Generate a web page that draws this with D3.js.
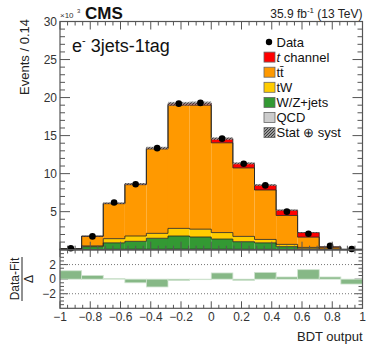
<!DOCTYPE html>
<html>
<head>
<meta charset="utf-8">
<script src="https://cdn.jsdelivr.net/npm/d3@7"></script>
<style>
  body { margin: 0; background: #fff; }
  svg { display: block; font-family: "Liberation Sans", Arial, sans-serif; }
</style>
</head>
<body>
<div id="chart"></div>
<script>
// Bin edges of the BDT output (14 bins)
const binEdges = [-1, -0.857, -0.714, -0.571, -0.429, -0.286, -0.143, 0, 0.143, 0.286, 0.429, 0.571, 0.714, 0.857, 1];

// Stack components (x10^3 events), bottom to top
const qcd     = [0.01, 0.03, 0.05, 0.06, 0.06, 0.07, 0.07, 0.06, 0.05, 0.04, 0.03, 0.02, 0.01, 0.01];
const wzjets  = [0.04, 0.37, 0.85, 1.04, 1.44, 1.73, 1.6, 1.34, 1.0, 0.86, 0.37, 0.1, 0.03, 0.01];
const tW      = [0.02, 0.1, 0.55, 0.7, 0.65, 1.0, 1.03, 0.85, 0.7, 0.45, 0.3, 0.18, 0.05, 0.01];
const ttbar   = [0.06, 1.25, 4.6, 6.75, 11.1, 16.2, 16.3, 11.8, 9.0, 6.5, 3.8, 1.35, 0.24, 0.02];
const tchan   = [0.0, 0.05, 0.07, 0.1, 0.12, 0.2, 0.25, 0.55, 0.6, 0.65, 0.7, 0.6, 0.05, 0.0];

// Observed data (x10^3 events)
const dataVals = [0.2, 1.75, 6.2, 8.6, 13.35, 19.2, 19.3, 14.6, 11.3, 8.45, 5.0, 2.1, 0.5, 0.1];

// (Data - Fit) / Delta
const pulls = [1.15, 0.5, 0.1, -0.5, -1.07, -0.2, -0.07, 0.85, -0.18, 0.93, 0.3, 1.3, 0.3, -0.67];

const yTicks = [5, 10, 15, 20, 25, 30];
const xTicks = [-1, -0.8, -0.6, -0.4, -0.2, 0, 0.2, 0.4, 0.6, 0.8, 1];
const pullTicks = [-2, 0, 2];

const W = 374, H = 357;
const frameColor = "#555";

const svg = d3.select("#chart").append("svg")
  .attr("width", W).attr("height", H);

const x = d3.scaleLinear().domain([-1, 1]).range([60, 362.5]);
const y = d3.scaleLinear().domain([0, 30]).range([249.7, 21.5]);
const yr = d3.scaleLinear().domain([-4, 4]).range([308.3, 250]);

const fmt = v => (v < 0 ? "\u2212" : "") + Math.abs(v);

// Hatch for the uncertainty band
const defs = svg.append("defs");
const pat = defs.append("pattern")
  .attr("id", "hatch")
  .attr("patternUnits", "userSpaceOnUse")
  .attr("width", 3).attr("height", 3);
pat.append("rect").attr("width", 3).attr("height", 3).attr("fill", "#999");
pat.append("path").attr("d", "M0,3 L3,0").attr("stroke", "#222").attr("stroke-width", 0.8);

// Stack
const layers = [
  { name: "QCD", vals: qcd, color: "#cccccc" },
  { name: "W/Z+jets", vals: wzjets, color: "#339933" },
  { name: "tW", vals: tW, color: "#ffcc00" },
  { name: "ttbar", vals: ttbar, color: "#ff9900" },
  { name: "tchan", vals: tchan, color: "#ff0000" }
];

const cum = binEdges.slice(0, -1).map(() => 0);
const stackG = svg.append("g");
layers.forEach(layer => {
  const lo = cum.slice();
  layer.vals.forEach((v, i) => { cum[i] += v; });
  const hi = cum.slice();
  stackG.selectAll(null)
    .data(hi.map((h, i) => ({ i, lo: lo[i], hi: h })))
    .join("rect")
    .attr("x", d => x(binEdges[d.i]))
    .attr("width", d => x(binEdges[d.i + 1]) - x(binEdges[d.i]))
    .attr("y", d => y(d.hi))
    .attr("height", d => Math.max(0, y(d.lo) - y(d.hi)))
    .attr("fill", layer.color);
  layer.top = hi;
});

// Step outlines of each layer
const stepLine = d3.line()
  .x(d => x(d[0]))
  .y(d => y(d[1]))
  .curve(d3.curveStepAfter);
layers.forEach(layer => {
  const pts = layer.top.map((v, i) => [binEdges[i], v]);
  pts.push([1, layer.top[layer.top.length - 1]]);
  pts.unshift([-1, 0]);
  pts.push([1, 0]);
  stackG.append("path")
    .attr("d", d3.line().x(d => x(d[0])).y(d => y(d[1]))(
      [[-1, 0]].concat(layer.top.flatMap((v, i) => [[binEdges[i], v], [binEdges[i + 1], v]]), [[1, 0]])))
    .attr("fill", "none")
    .attr("stroke", "#222")
    .attr("stroke-width", 0.8);
});

// Uncertainty band around the total
const total = cum.slice();
stackG.selectAll(null)
  .data(total)
  .join("rect")
  .attr("x", (d, i) => x(binEdges[i]))
  .attr("width", (d, i) => x(binEdges[i + 1]) - x(binEdges[i]))
  .attr("y", d => y(d * 1.012))
  .attr("height", d => y(d * 0.988) - y(d * 1.012))
  .attr("fill", "url(#hatch)")
  .attr("opacity", 0.75);

// Data points
const centers = binEdges.slice(0, -1).map((e, i) => (e + binEdges[i + 1]) / 2);
svg.append("g").selectAll("circle")
  .data(dataVals)
  .join("circle")
  .attr("cx", (d, i) => x(centers[i]))
  .attr("cy", d => y(d))
  .attr("r", 3.3)
  .attr("fill", "#000");

// Frames and ticks
function frame(top, bottom) {
  svg.append("rect")
    .attr("x", x(-1)).attr("y", top)
    .attr("width", x(1) - x(-1)).attr("height", bottom - top)
    .attr("fill", "none").attr("stroke", frameColor).attr("stroke-width", 1.2);
}

function xTickMarks(top, bottom, len) {
  const g = svg.append("g").attr("stroke", frameColor).attr("stroke-width", 1);
  const minor = d3.range(-1, 1.0001, 0.05);
  minor.forEach(v => {
    const isMajor = Math.abs(Math.round(v * 5) - v * 5) < 1e-6;
    const l = isMajor ? len : len / 2;
    g.append("line").attr("x1", x(v)).attr("x2", x(v)).attr("y1", bottom).attr("y2", bottom - l);
    g.append("line").attr("x1", x(v)).attr("x2", x(v)).attr("y1", top).attr("y2", top + l);
  });
}

// Main panel
frame(y(30), y(0));
xTickMarks(y(30), y(0), 8);
const yAxisL = d3.axisLeft(y).tickValues(d3.range(1, 31)).tickSize(0).tickFormat("");
const tickG = svg.append("g").attr("stroke", frameColor);
d3.range(1, 30).forEach(v => {
  const l = v % 5 === 0 ? 10 : 5;
  tickG.append("line").attr("x1", x(-1)).attr("x2", x(-1) + l).attr("y1", y(v)).attr("y2", y(v));
  tickG.append("line").attr("x1", x(1)).attr("x2", x(1) - l).attr("y1", y(v)).attr("y2", y(v));
});
svg.append("g").selectAll("text")
  .data(yTicks)
  .join("text")
  .attr("x", x(-1) - 3)
  .attr("y", d => y(d))
  .attr("dy", "0.35em")
  .attr("text-anchor", "end")
  .attr("font-size", 12)
  .attr("fill", "#333")
  .text(d => d);

// Ratio panel
svg.append("g").selectAll("rect")
  .data(pulls)
  .join("rect")
  .attr("x", (d, i) => x(binEdges[i]))
  .attr("width", (d, i) => x(binEdges[i + 1]) - x(binEdges[i]))
  .attr("y", d => yr(Math.max(0, d)))
  .attr("height", d => Math.abs(yr(d) - yr(0)))
  .attr("fill", "#86b886")
  .attr("stroke", "#cfe3cf")
  .attr("stroke-width", 0.8);

[-2, 2].forEach(v => {
  svg.append("line")
    .attr("x1", x(-1)).attr("x2", x(1))
    .attr("y1", yr(v)).attr("y2", yr(v))
    .attr("stroke", "#777").attr("stroke-width", 1)
    .attr("stroke-dasharray", "1,2");
});

frame(yr(4), yr(-4));
xTickMarks(yr(4), yr(-4), 7);
d3.range(-3.5, 4, 0.5).forEach(v => {
  const l = Number.isInteger(v) && v % 2 === 0 ? 8 : 4;
  tickG.append("line").attr("x1", x(-1)).attr("x2", x(-1) + l).attr("y1", yr(v)).attr("y2", yr(v));
  tickG.append("line").attr("x1", x(1)).attr("x2", x(1) - l).attr("y1", yr(v)).attr("y2", yr(v));
});
svg.append("g").selectAll("text")
  .data(pullTicks)
  .join("text")
  .attr("x", x(-1) - 4)
  .attr("y", d => yr(d))
  .attr("dy", "0.35em")
  .attr("text-anchor", "end")
  .attr("font-size", 12)
  .attr("fill", "#333")
  .text(d => fmt(d));

// X tick labels
svg.append("g").selectAll("text")
  .data(xTicks)
  .join("text")
  .attr("x", d => x(d))
  .attr("y", 321)
  .attr("text-anchor", "middle")
  .attr("font-size", 12)
  .attr("fill", "#333")
  .text(d => fmt(d));

svg.append("text")
  .attr("x", x(1)).attr("y", 341)
  .attr("text-anchor", "end")
  .attr("font-size", 13)
  .attr("fill", "#222")
  .text("BDT output");

// Y titles
svg.append("text")
  .attr("transform", `translate(29,19) rotate(-90)`)
  .attr("text-anchor", "end")
  .attr("font-size", 13)
  .attr("fill", "#222")
  .text("Events / 0.14");

const ratioT = svg.append("g").attr("transform", "translate(22,279) rotate(-90)");
ratioT.append("text").attr("y", -3).attr("text-anchor", "middle")
  .attr("font-size", 12).attr("fill", "#222").text("Data-Fit");
ratioT.append("line").attr("x1", -22).attr("x2", 22).attr("y1", 0).attr("y2", 0)
  .attr("stroke", "#222").attr("stroke-width", 1);
ratioT.append("text").attr("y", 11).attr("text-anchor", "middle")
  .attr("font-size", 12).attr("fill", "#222").text("\u0394");

// Header
svg.append("text").attr("x", 60).attr("y", 18)
  .attr("font-size", 8).attr("fill", "#333").text("\u00d710");
svg.append("text").attr("x", 77).attr("y", 13)
  .attr("font-size", 6).attr("fill", "#333").text("3");
svg.append("text").attr("x", 85).attr("y", 19)
  .attr("font-size", 17).attr("font-weight", "bold").attr("fill", "#111").text("CMS");

const lumi = svg.append("text").attr("x", x(1)).attr("y", 18)
  .attr("text-anchor", "end").attr("font-size", 12).attr("fill", "#222");
lumi.append("tspan").text("35.9 fb");
lumi.append("tspan").attr("font-size", 8).attr("dy", -5).text("-1");
lumi.append("tspan").attr("dy", 5).text(" (13 TeV)");

const chan = svg.append("text").attr("x", 72).attr("y", 52)
  .attr("font-size", 18).attr("fill", "#111");
chan.append("tspan").text("e");
chan.append("tspan").attr("font-size", 11).attr("dy", -8).text("-");
chan.append("tspan").attr("dy", 8).text("  3jets-1tag");

// Legend
const legendItems = [
  { label: "Data", kind: "point" },
  { label: "t channel", kind: "box", color: "#ff0000", italicT: true },
  { label: "tt\u0304", kind: "box", color: "#ff9900" },
  { label: "tW", kind: "box", color: "#ffcc00" },
  { label: "W/Z+jets", kind: "box", color: "#339933" },
  { label: "QCD", kind: "box", color: "#cccccc" },
  { label: "Stat \u2295 syst", kind: "box", color: "url(#hatch)" }
];
const leg = svg.append("g");
legendItems.forEach((it, i) => {
  const cy = 42 + i * 15.1;
  if (it.kind === "point") {
    leg.append("circle").attr("cx", 269).attr("cy", cy).attr("r", 3.2).attr("fill", "#000");
  } else {
    leg.append("rect").attr("x", 264).attr("y", cy - 5).attr("width", 11).attr("height", 10)
      .attr("fill", it.color).attr("stroke", "#666").attr("stroke-width", 0.8);
  }
  const t = leg.append("text").attr("x", 276.5).attr("y", cy).attr("dy", "0.36em")
    .attr("font-size", 13).attr("fill", "#111");
  if (it.italicT) {
    t.append("tspan").attr("font-style", "italic").text("t");
    t.append("tspan").text(" channel");
  } else {
    t.text(it.label);
  }
});
</script>
</body>
</html>
